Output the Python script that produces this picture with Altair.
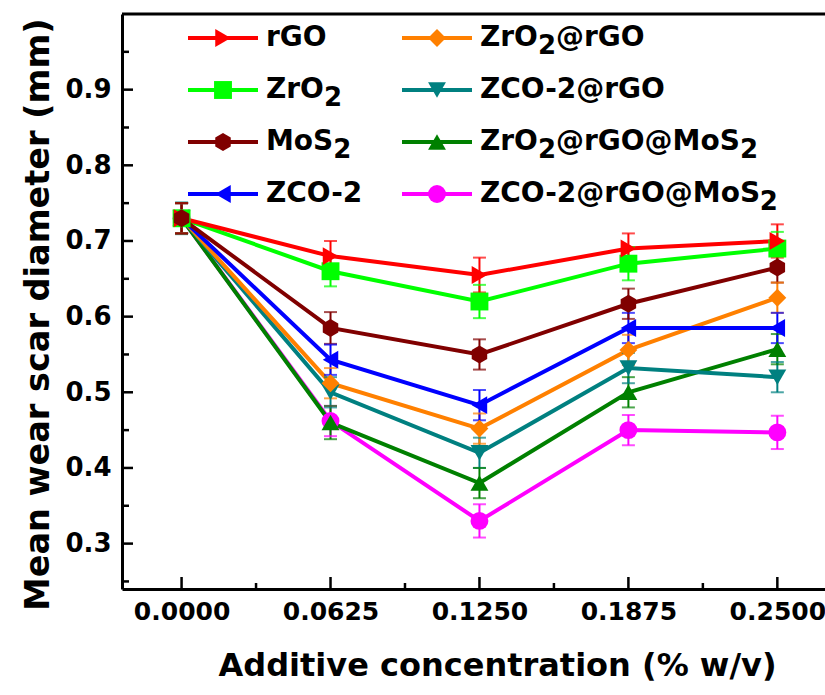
import altair as alt
import pandas as pd

# ---------------- data ----------------
conc = [0.0, 0.0625, 0.125, 0.1875, 0.25]

series = ["rGO", "ZrO2", "MoS2", "ZCO-2",
          "ZrO2@rGO", "ZCO-2@rGO", "ZrO2@rGO@MoS2", "ZCO-2@rGO@MoS2"]
colors = ["#FF0000", "#00FF00", "#800000", "#0000FF",
          "#FF8000", "#008080", "#008000", "#FF00FF"]
HEX = "M0,-1L0.866,-0.5L0.866,0.5L0,1L-0.866,0.5L-0.866,-0.5Z"
shapes = ["triangle-right", "square", HEX, "triangle-left",
          "diamond", "triangle-down", "triangle-up", "circle"]

val_rGO = [0.730, 0.680, 0.655, 0.690, 0.700]
val_ZrO2 = [0.730, 0.660, 0.620, 0.670, 0.690]
val_MoS2 = [0.730, 0.585, 0.550, 0.617, 0.665]
val_ZCO2 = [0.730, 0.543, 0.483, 0.585, 0.585]
val_ZrO2_rGO = [0.730, 0.512, 0.452, 0.556, 0.625]
val_ZCO2_rGO = [0.730, 0.500, 0.420, 0.532, 0.520]
val_ZrO2_rGO_MoS2 = [0.730, 0.460, 0.380, 0.500, 0.557]
val_ZCO2_rGO_MoS2 = [0.730, 0.462, 0.330, 0.450, 0.447]

err_rGO = [0.020, 0.020, 0.023, 0.020, 0.022]
err_ZrO2 = [0.020, 0.020, 0.022, 0.022, 0.022]
err_MoS2 = [0.020, 0.021, 0.020, 0.020, 0.020]
err_ZCO2 = [0.020, 0.020, 0.020, 0.020, 0.020]
err_ZrO2_rGO = [0.020, 0.020, 0.020, 0.020, 0.020]
err_ZCO2_rGO = [0.021, 0.020, 0.020, 0.020, 0.020]
err_ZrO2_rGO_MoS2 = [0.020, 0.022, 0.020, 0.020, 0.020]
err_ZCO2_rGO_MoS2 = [0.020, 0.020, 0.022, 0.020, 0.022]

x_major = [0.0, 0.0625, 0.125, 0.1875, 0.25]
x_minor = [0.03125, 0.09375, 0.15625, 0.21875]
y_major = [0.3, 0.4, 0.5, 0.6, 0.7, 0.8, 0.9]
y_minor = [0.25, 0.35, 0.45, 0.55, 0.65, 0.75, 0.85, 0.95]

x_title = "Additive concentration (% w/v)"
y_title = "Mean wear scar diameter (mm)"

# ---------------- tables ----------------
values = {
    "rGO": (val_rGO, err_rGO),
    "ZrO2": (val_ZrO2, err_ZrO2),
    "MoS2": (val_MoS2, err_MoS2),
    "ZCO-2": (val_ZCO2, err_ZCO2),
    "ZrO2@rGO": (val_ZrO2_rGO, err_ZrO2_rGO),
    "ZCO-2@rGO": (val_ZCO2_rGO, err_ZCO2_rGO),
    "ZrO2@rGO@MoS2": (val_ZrO2_rGO_MoS2, err_ZrO2_rGO_MoS2),
    "ZCO-2@rGO@MoS2": (val_ZCO2_rGO_MoS2, err_ZCO2_rGO_MoS2),
}
draw_order = ["ZCO-2@rGO@MoS2", "ZrO2@rGO@MoS2", "ZCO-2@rGO", "ZrO2@rGO",
              "ZCO-2", "ZrO2", "rGO", "MoS2"]
rows = []
for s in draw_order:
    v, e = values[s]
    for c, vv, ee in zip(conc, v, e):
        rows.append({"series": s, "conc": c, "val": vv, "err": ee})
df = pd.DataFrame(rows)

# ---------------- layout ----------------
W, H = 703, 575
XD = [-0.025, 0.27]
YD = [0.24, 1.0]
FONT = "DejaVu Sans"

xscale = alt.Scale(domain=XD, nice=False, zero=False)
yscale = alt.Scale(domain=YD, nice=False, zero=False)
cscale = alt.Scale(domain=series, range=colors)
sscale = alt.Scale(domain=series, range=shapes)


def px_to_x(px):
    return XD[0] + px / W * (XD[1] - XD[0])


def py_to_y(py):
    return YD[1] - py / H * (YD[1] - YD[0])


xaxis = alt.Axis(values=x_major, format=".4f", ticks=False, grid=False,
                 domainColor="black", domainWidth=3, labelFlush=False,
                 labelFont=FONT, labelFontWeight="bold", labelFontSize=25,
                 labelColor="black", labelPadding=10,
                 title=x_title, titleFont=FONT, titleFontWeight="bold",
                 titleFontSize=32, titleColor="black", titleX=375, titleY=76,
                 titleBaseline="middle")
yaxis = alt.Axis(values=y_major, format=".1f", ticks=False, grid=False,
                 domainColor="black", domainWidth=3, labelFlush=False,
                 labelFont=FONT, labelFontWeight="bold", labelFontSize=26,
                 labelColor="black", labelPadding=11,
                 title=y_title, titleFont=FONT, titleFontWeight="bold",
                 titleFontSize=33.5, titleColor="black", titleX=-84, titleY=300,
                 titleBaseline="middle", titleAngle=270)


def X(field):
    return alt.X(field, scale=xscale, axis=xaxis)


def Y(field):
    return alt.Y(field, scale=yscale, axis=yaxis)


COLOR = alt.Color("series:N", scale=cscale, legend=None)
SHAPE = alt.Shape("series:N", scale=sscale, legend=None)

base = alt.Chart(df)

lines = base.mark_line(strokeWidth=4).encode(
    x=X("conc:Q"), y=Y("val:Q"), color=COLOR,
    detail="series:N", order=alt.Order("conc:Q"),
)

err_base = base.transform_calculate(
    lo="datum.val - datum.err", hi="datum.val + datum.err")
err_rule = err_base.mark_rule(strokeWidth=2).encode(
    x=X("conc:Q"), y=Y("lo:Q"), y2="hi:Q", color=COLOR)
cap_lo = err_base.mark_tick(orient="horizontal", size=13, thickness=2).encode(
    x=X("conc:Q"), y=Y("lo:Q"), color=COLOR)
cap_hi = err_base.mark_tick(orient="horizontal", size=13, thickness=2).encode(
    x=X("conc:Q"), y=Y("hi:Q"), color=COLOR)

points = base.mark_point(filled=True, opacity=1, size=320).encode(
    x=X("conc:Q"), y=Y("val:Q"), color=COLOR, shape=SHAPE)

# ---------------- inward ticks & top frame ----------------
ytm = alt.Chart(pd.DataFrame({"t": y_major})).mark_rule(color="black", strokeWidth=2.5).encode(
    y=Y("t:Q"), x=alt.value(0), x2=alt.value(11))
ytn = alt.Chart(pd.DataFrame({"t": y_minor})).mark_rule(color="black", strokeWidth=2.5).encode(
    y=Y("t:Q"), x=alt.value(0), x2=alt.value(7))
xtm = alt.Chart(pd.DataFrame({"t": x_major})).mark_rule(color="black", strokeWidth=2.5).encode(
    x=X("t:Q"), y=alt.value(H), y2=alt.value(H - 12))
xtn = alt.Chart(pd.DataFrame({"t": x_minor})).mark_rule(color="black", strokeWidth=2.5).encode(
    x=X("t:Q"), y=alt.value(H), y2=alt.value(H - 6))
top = alt.Chart(pd.DataFrame({"a": [0]})).mark_rule(color="black", strokeWidth=3).encode(
    x=alt.value(0), x2=alt.value(W), y=alt.value(0))

# ---------------- legend (drawn inside the plot) ----------------
EM = {" ": 0.348, "-": 0.415, ".": 0.381, "2": 0.696, "@": 1.002,
      "C": 0.734, "G": 0.821, "M": 0.995, "O": 0.850, "S": 0.722,
      "Z": 0.725, "o": 0.687, "r": 0.493}
LFS, SFS, SDY = 28, 26, 8
LEG_X = [66, 280]
LEG_Y0, LEG_DY = 24, 52
LINE_LEN, MARK_OFF, TEXT_OFF = 70, 35, 78

leg_lines, leg_pts, leg_txt, leg_sub = [], [], [], []
for i, s in enumerate(series):
    col, row = i // 4, i % 4
    x0 = LEG_X[col]
    y0 = LEG_Y0 + row * LEG_DY
    leg_lines.append({"series": s, "x1": px_to_x(x0), "x2": px_to_x(x0 + LINE_LEN), "y": py_to_y(y0)})
    leg_pts.append({"series": s, "x": px_to_x(x0 + MARK_OFF), "y": py_to_y(y0)})
    cur = x0 + TEXT_OFF
    buf = ""
    for k, ch in enumerate(s):
        is_sub = ch == "2" and k > 0 and s[k - 1] in "OS"
        if is_sub:
            if buf:
                leg_txt.append({"t": buf, "x": px_to_x(cur), "y": py_to_y(y0)})
                cur += sum(EM[c] for c in buf) * LFS
                buf = ""
            leg_sub.append({"t": "2", "x": px_to_x(cur), "y": py_to_y(y0 + SDY)})
            cur += EM["2"] * SFS
        else:
            buf += ch
    if buf:
        leg_txt.append({"t": buf, "x": px_to_x(cur), "y": py_to_y(y0)})

leg_line_layer = alt.Chart(pd.DataFrame(leg_lines)).mark_rule(strokeWidth=4).encode(
    x=X("x1:Q"), x2="x2:Q", y=Y("y:Q"), color=COLOR)
leg_pt_layer = alt.Chart(pd.DataFrame(leg_pts)).mark_point(filled=True, opacity=1, size=320).encode(
    x=X("x:Q"), y=Y("y:Q"), color=COLOR, shape=SHAPE)
leg_txt_layer = alt.Chart(pd.DataFrame(leg_txt)).mark_text(
    align="left", baseline="middle", font=FONT, fontWeight="bold", fontSize=LFS, color="black").encode(
    x=X("x:Q"), y=Y("y:Q"), text="t:N")
leg_sub_layer = alt.Chart(pd.DataFrame(leg_sub)).mark_text(
    align="left", baseline="middle", font=FONT, fontWeight="bold", fontSize=SFS, color="black").encode(
    x=X("x:Q"), y=Y("y:Q"), text="t:N")

chart = alt.layer(
    lines, err_rule, cap_lo, cap_hi, points,
    ytm, ytn, xtm, xtn, top,
    leg_line_layer, leg_pt_layer, leg_txt_layer, leg_sub_layer,
).properties(
    width=W, height=H,
    autosize=alt.AutoSizeParams(type="none"),
    padding={"left": 122, "top": 14, "right": 0, "bottom": 106},
    background="white",
).configure_view(stroke="transparent")

chart.save("out.html", embed_options={"renderer": "svg", "actions": False})
